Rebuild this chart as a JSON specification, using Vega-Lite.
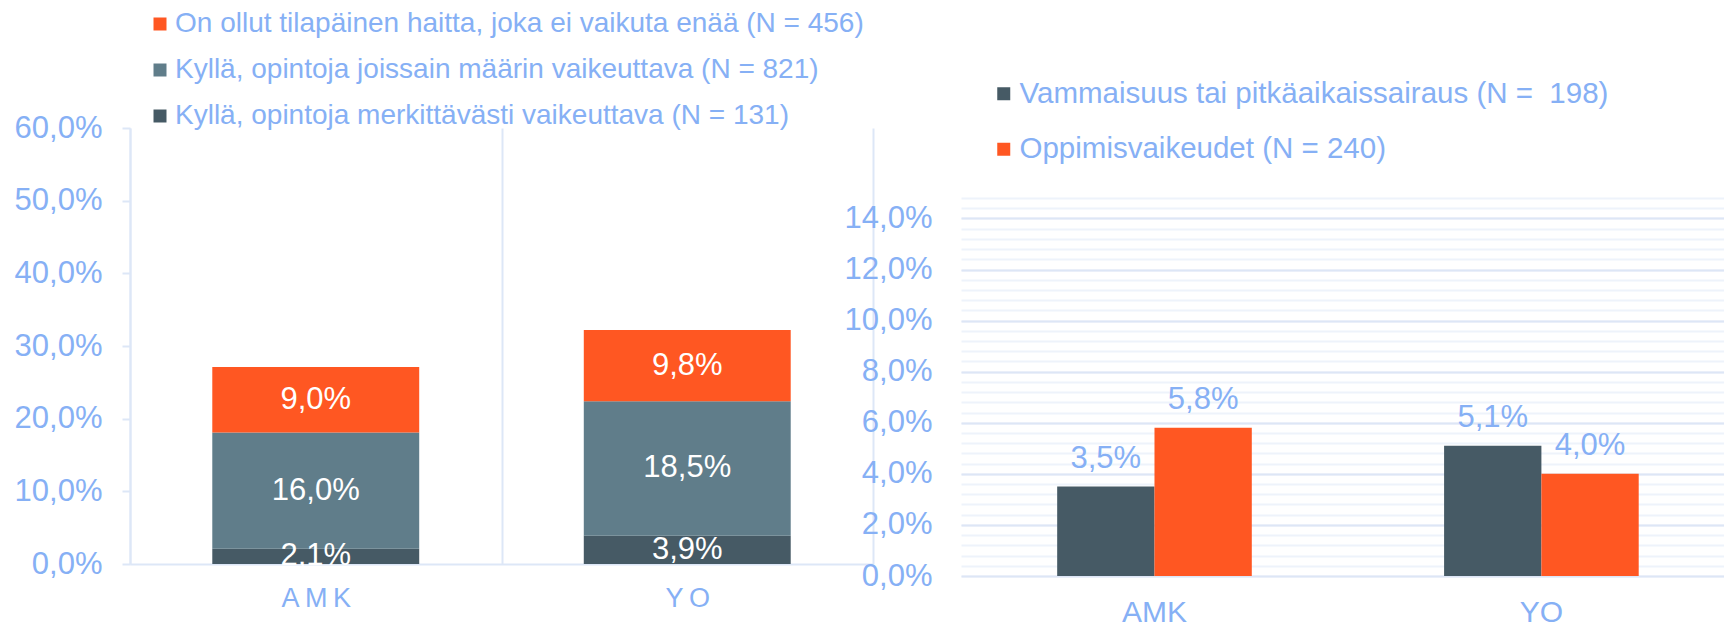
{
  "$schema": "https://vega.github.io/schema/vega-lite/v6.json",
  "background": "white",
  "padding": {"left": 14, "top": 10, "right": 0, "bottom": 0},
  "spacing": -29,
  "config": {
    "font": "Liberation Sans",
    "view": {"stroke": null},
    "locale": {"number": {"decimal": ",", "thousands": " ", "grouping": [3], "currency": ["", " €"]}},
    "legend": {"padding": 0, "titlePadding": 0}
  },
  "resolve": {
    "scale": {"color": "independent", "x": "independent", "y": "independent"},
    "legend": {"color": "independent"}
  },
  "hconcat": [
    {
      "width": 743,
      "height": 436,
      "data": {
        "values": [
          {"kk": "AMK", "sarja": "Kyllä, opintoja merkittävästi vaikeuttava (N = 131)", "osuus": 0.021, "jarj": 1},
          {"kk": "AMK", "sarja": "Kyllä, opintoja joissain määrin vaikeuttava (N = 821)", "osuus": 0.160, "jarj": 2},
          {"kk": "AMK", "sarja": "On ollut tilapäinen haitta, joka ei vaikuta enää (N = 456)", "osuus": 0.090, "jarj": 3},
          {"kk": "YO", "sarja": "Kyllä, opintoja merkittävästi vaikeuttava (N = 131)", "osuus": 0.039, "jarj": 1},
          {"kk": "YO", "sarja": "Kyllä, opintoja joissain määrin vaikeuttava (N = 821)", "osuus": 0.185, "jarj": 2},
          {"kk": "YO", "sarja": "On ollut tilapäinen haitta, joka ei vaikuta enää (N = 456)", "osuus": 0.098, "jarj": 3}
        ]
      },
      "transform": [
        {"stack": "osuus", "groupby": ["kk"], "sort": [{"field": "jarj", "order": "ascending"}], "as": ["y0", "y1"]},
        {"calculate": "(datum.y0 + datum.y1) / 2", "as": "ykeski"}
      ],
      "layer": [
        {
          "mark": {"type": "bar", "width": {"band": 0.557}},
          "encoding": {
            "x": {
              "field": "kk", "type": "nominal",
              "scale": {"paddingInner": 0, "paddingOuter": 0},
              "axis": {
                "title": null, "labelAngle": 0, "labelFontSize": 27, "labelColor": "#86B0F5",
                "labelPadding": 21, "ticks": false, "domain": true, "domainColor": "#dde7f7", "domainWidth": 2,
                "grid": true, "gridColor": "#dde7f7", "gridWidth": 2, "tickBand": "extent",
                "labelExpr": "join(split(datum.label, ''), '\u2009')"
              }
            },
            "y": {
              "field": "y0", "type": "quantitative",
              "scale": {"domain": [0, 0.6], "nice": false},
              "axis": {
                "title": null, "format": ".1%", "values": [0, 0.1, 0.2, 0.3, 0.4, 0.5, 0.6],
                "labelFontSize": 31, "labelColor": "#86B0F5", "labelPadding": 20,
                "tickSize": 8, "tickColor": "#dde7f7", "tickWidth": 2,
                "domain": true, "domainColor": "#dde7f7", "domainWidth": 2, "grid": false
              }
            },
            "y2": {"field": "y1"},
            "color": {
              "field": "sarja", "type": "nominal",
              "scale": {
                "domain": [
                  "On ollut tilapäinen haitta, joka ei vaikuta enää (N = 456)",
                  "Kyllä, opintoja joissain määrin vaikeuttava (N = 821)",
                  "Kyllä, opintoja merkittävästi vaikeuttava (N = 131)"
                ],
                "range": ["#FF5722", "#607D8A", "#465A65"]
              },
              "legend": {
                "title": null, "orient": "none", "legendX": 16, "legendY": -118,
                "symbolType": "square", "symbolSize": 169, "symbolStrokeWidth": 0,
                "labelFontSize": 28, "labelColor": "#86B0F5", "labelOffset": 1,
                "rowPadding": 18, "labelLimit": 1000
              }
            }
          }
        },
        {
          "mark": {"type": "text", "color": "white", "fontSize": 31, "baseline": "middle"},
          "encoding": {
            "x": {"field": "kk", "type": "nominal"},
            "y": {"field": "ykeski", "type": "quantitative"},
            "text": {"field": "osuus", "type": "quantitative", "format": ".1%"}
          }
        }
      ]
    },
    {
      "width": 763,
      "height": 448,
      "data": {
        "values": [
          {"kk": "AMK", "ryhma": "Vammaisuus tai pitkäaikaissairaus (N =\u00a0 198)", "osuus": 0.035},
          {"kk": "AMK", "ryhma": "Oppimisvaikeudet (N = 240)", "osuus": 0.058},
          {"kk": "YO", "ryhma": "Vammaisuus tai pitkäaikaissairaus (N =\u00a0 198)", "osuus": 0.051},
          {"kk": "YO", "ryhma": "Oppimisvaikeudet (N = 240)", "osuus": 0.040}
        ]
      },
      "layer": [
        {
          "mark": {"type": "bar"},
          "encoding": {
            "x": {
              "field": "kk", "type": "nominal",
              "scale": {"paddingInner": 0.497, "paddingOuter": 0.2345, "align": 0.53},
              "axis": {
                "title": null, "labelAngle": 0, "labelFontSize": 30, "labelColor": "#86B0F5",
                "labelPadding": 21, "ticks": false, "domain": false, "grid": false
              }
            },
            "xOffset": {
              "field": "ryhma", "type": "nominal",
              "scale": {"domain": ["Vammaisuus tai pitkäaikaissairaus (N =\u00a0 198)", "Oppimisvaikeudet (N = 240)"]}
            },
            "y": {
              "field": "osuus", "type": "quantitative",
              "scale": {"domain": [0, 0.1754], "nice": false},
              "axis": {
                "orient": "left", "title": null, "labels": false, "ticks": false, "domain": false,
                "grid": true, "gridColor": "#eef3fb", "gridWidth": 2,
                "values": [0, 0.004, 0.008, 0.012, 0.016, 0.02, 0.024, 0.028, 0.032, 0.036, 0.04, 0.044, 0.048, 0.052, 0.056, 0.06, 0.064, 0.068, 0.072, 0.076, 0.08, 0.084, 0.088, 0.092, 0.096, 0.1, 0.104, 0.108, 0.112, 0.116, 0.12, 0.124, 0.128, 0.132, 0.136, 0.14, 0.144, 0.148]
              }
            },
            "color": {
              "field": "ryhma", "type": "nominal",
              "scale": {
                "domain": ["Vammaisuus tai pitkäaikaissairaus (N =\u00a0 198)", "Oppimisvaikeudet (N = 240)"],
                "range": ["#465A65", "#FF5722"]
              },
              "legend": {
                "title": null, "orient": "none", "legendX": 28, "legendY": -49,
                "symbolType": "square", "symbolSize": 169, "symbolStrokeWidth": 0,
                "labelFontSize": 29.5, "labelColor": "#86B0F5", "labelOffset": 1,
                "rowPadding": 24.5, "labelLimit": 1000
              }
            }
          }
        },
        {
          "mark": {"type": "text", "color": "#86B0F5", "fontSize": 31, "baseline": "alphabetic", "dy": -19},
          "encoding": {
            "x": {"field": "kk", "type": "nominal"},
            "xOffset": {"field": "ryhma", "type": "nominal"},
            "y": {
              "field": "osuus", "type": "quantitative",
              "axis": {
                "orient": "left", "title": null, "format": ".1%",
                "values": [0, 0.02, 0.04, 0.06, 0.08, 0.1, 0.12, 0.14],
                "labelFontSize": 31, "labelColor": "#86B0F5", "labelPadding": 29,
                "ticks": false, "domain": false, "grid": true, "gridColor": "#dde6f6", "gridWidth": 2
              }
            },
            "text": {"field": "osuus", "type": "quantitative", "format": ".1%"}
          }
        }
      ],
      "resolve": {"axis": {"y": "independent"}}
    }
  ]
}
